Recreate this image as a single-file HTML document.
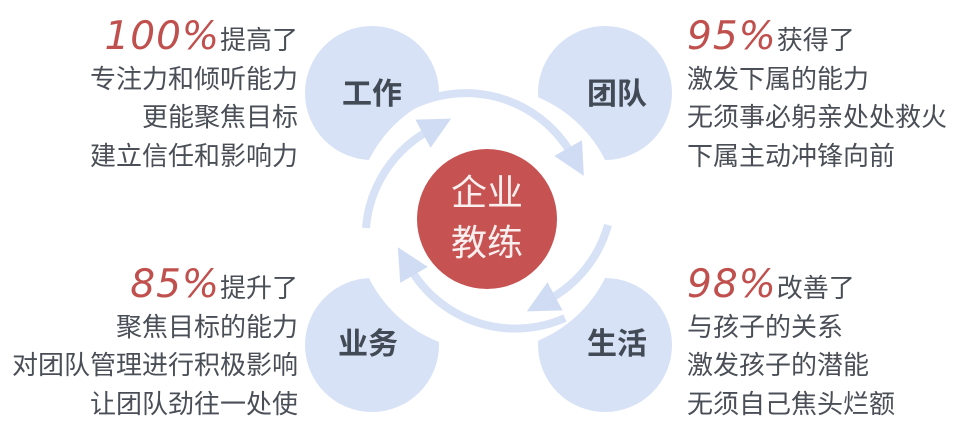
<!DOCTYPE html>
<html><head><meta charset="utf-8"><style>
body{margin:0;width:960px;height:435px;background:#fff;position:relative;overflow:hidden;font-family:"Liberation Sans","Noto Sans CJK SC",sans-serif;color:#4a4f57}
.blk{position:absolute;font-size:26px;line-height:38.5px}
.l{right:662px;text-align:right}
.r{left:687px;text-align:left}
.p{font-style:italic;color:#c0504d;font-size:39px;letter-spacing:1px;font-family:"DejaVu Sans",sans-serif;font-weight:normal}
</style></head><body>
<svg width="960" height="435" style="position:absolute;left:0;top:0">
<defs><marker id="a" markerWidth="4" markerHeight="4" refX="1" refY="2" orient="auto"><path d="M0,0 L4,2 L0,4 Z" fill="#cfdcf3"/></marker></defs>
<circle cx="372" cy="93" r="67" fill="#d7e2f6"/>
<circle cx="605" cy="93" r="67" fill="#d7e2f6"/>
<circle cx="372" cy="345" r="67" fill="#d7e2f6"/>
<circle cx="605" cy="345" r="67" fill="#d7e2f6"/>
<circle cx="487" cy="219" r="132" fill="#fff"/>
<g fill="none" stroke="#d7e2f6" stroke-width="8" marker-end="url(#a)">
<path d="M392,118 A122,122 0 0 1 572,155"/>
<path d="M608,225 A122,122 0 0 1 548,300"/>
<path d="M565,318 A122,122 0 0 1 410,268"/>
<path d="M366,228 A122,122 0 0 1 430,130"/>
</g>
<circle cx="487" cy="219" r="70" fill="#c65252"/>
<text x="487" y="205" text-anchor="middle" font-size="36" fill="#fbeeee" font-family="Noto Sans CJK SC,sans-serif">企业</text>
<text x="487" y="255" text-anchor="middle" font-size="36" fill="#fbeeee" font-family="Noto Sans CJK SC,sans-serif">教练</text>
<g font-size="30" font-weight="bold" fill="#424a55" font-family="Noto Sans CJK SC,sans-serif" text-anchor="middle">
<text x="372" y="104">工作</text><text x="617" y="104">团队</text>
<text x="368" y="354">业务</text><text x="617" y="354">生活</text>
</g>
</svg>
<div class="blk l" style="top:18px"><span class="p">100%</span>提高了<br>专注力和倾听能力<br>更能聚焦目标<br>建立信任和影响力</div>
<div class="blk r" style="top:18px"><span class="p">95%</span>获得了<br>激发下属的能力<br>无须事必躬亲处处救火<br>下属主动冲锋向前</div>
<div class="blk l" style="top:266px"><span class="p">85%</span>提升了<br>聚焦目标的能力<br>对团队管理进行积极影响<br>让团队劲往一处使</div>
<div class="blk r" style="top:266px"><span class="p">98%</span>改善了<br>与孩子的关系<br>激发孩子的潜能<br>无须自己焦头烂额</div>
</body></html>
